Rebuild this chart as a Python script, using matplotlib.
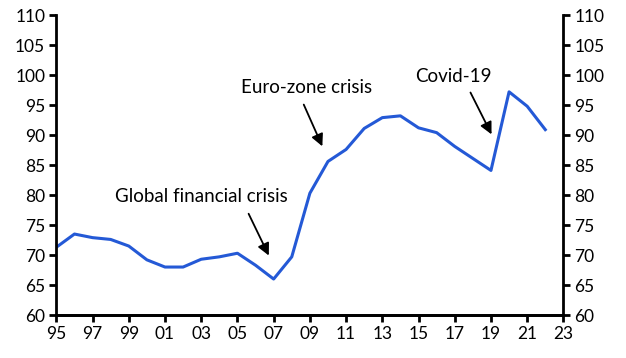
import matplotlib.pyplot as plt
import numpy as np

plt.rcParams['font.family'] = ['Lato', 'DejaVu Sans']

years = list(range(1995, 2023))
values = [71.3, 73.5, 72.9, 72.6, 71.5, 69.2, 68.0, 68.0, 69.3, 69.7,
          70.3, 68.3, 66.0, 69.7, 80.3, 85.6, 87.6, 91.1, 92.9, 93.2,
          91.2, 90.4, 88.1, 86.1, 84.1, 97.2, 94.8, 90.9]

xticks = list(range(1995, 2024, 2))
xlabels = ['%02d' % (y % 100) for y in xticks]
yticks = list(range(60, 111, 5))

fig, ax = plt.subplots(figsize=(6.26, 3.58), dpi=100)
fig.subplots_adjust(left=0.09, right=0.9, top=0.958, bottom=0.12)

ax.plot(years, values, color='#2459D6', linewidth=2.2)

ax.set_xlim(1995, 2023)
ax.set_ylim(60, 110)
ax.set_xticks(xticks)
ax.set_xticklabels(xlabels)
ax.set_yticks(yticks)

ax2 = ax.twinx()
ax2.set_ylim(60, 110)
ax2.set_yticks(yticks)

for a in (ax, ax2):
    a.spines['top'].set_visible(False)
    for s in ('left', 'right', 'bottom'):
        a.spines[s].set_linewidth(2)
    a.tick_params(axis='both', direction='out', length=5, width=2,
                  labelsize=12.5, colors='black', pad=3)
ax.spines['right'].set_visible(False)
ax2.spines['left'].set_visible(False)

# crisis annotations
arrow = dict(arrowstyle='-|>', color='black', lw=1.3, mutation_scale=18)
ax.annotate('', xy=(2006.8, 69.5), xytext=(2005.55, 77.3), arrowprops=arrow)
ax.text(2003.0, 79.8, 'Global financial crisis', fontsize=13.5, ha='center', va='center')
ax.annotate('', xy=(2009.75, 87.7), xytext=(2008.6, 95.5), arrowprops=arrow)
ax.text(2008.8, 98.0, 'Euro-zone crisis', fontsize=13.5, ha='center', va='center')
ax.annotate('', xy=(2019.1, 89.7), xytext=(2017.8, 97.5), arrowprops=arrow)
ax.text(2016.9, 99.8, 'Covid-19', fontsize=13.5, ha='center', va='center')

fig.savefig('out.png', dpi=100)
